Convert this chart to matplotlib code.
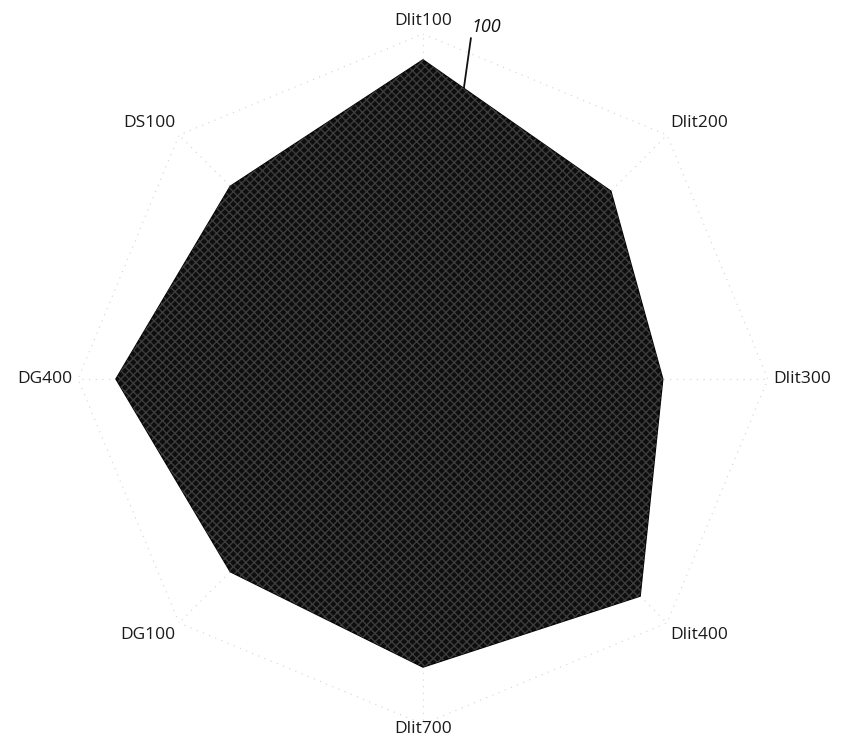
import numpy as np
import matplotlib
matplotlib.use("Agg")
import matplotlib.pyplot as plt

categories = ["Dlit100", "Dlit200", "Dlit300", "Dlit400", "Dlit700", "DG100", "DG400", "DS100"]
values = [92.5, 77, 69.5, 89, 83.5, 79, 89, 79]
rmax = 100
tick_label = "100"

plt.rcParams["font.family"] = ["Open Sans", "DejaVu Sans"]

fig = plt.figure(figsize=(8.41, 7.43), dpi=100)
# centre at (423, 379) px, r=100 -> 345 px
ax = fig.add_axes([78 / 841, 19 / 743, 690 / 841, 690 / 743], projection="polar")
ax.set_theta_zero_location("N")
ax.set_theta_direction(-1)
ax.set_ylim(0, rmax)
ax.axis("off")

n = len(categories)
theta = np.linspace(0, 2 * np.pi, n, endpoint=False)
theta_c = np.append(theta, theta[0])

# faint dotted grid: spokes and outer ring
for t in theta:
    ax.plot([t, t], [0, rmax], color="#d2d2d2", lw=0.8, ls=(0, (1, 5)), zorder=1)
ax.plot(theta_c, [rmax] * (n + 1), color="#d2d2d2", lw=0.8, ls=(0, (1, 5)), zorder=1)

# radial axis line, tilted slightly clockwise
ang = np.deg2rad(8)
ax.plot([ang, ang], [0, rmax], color="#111111", lw=1.3, zorder=2)
ax.text(ang, rmax + 0.5, tick_label, fontsize=13, style="italic", color="#111111",
        ha="left", va="bottom", zorder=5)

vals = values + values[:1]
ax.fill(theta_c, vals, facecolor="#0e0e0e", edgecolor="#050505", lw=1.0, zorder=3)
ax.fill(theta_c, vals, facecolor="none", edgecolor="#3c3c3c", hatch="xxxx", lw=0, zorder=4)

for t, lab in zip(theta, categories):
    s, c = np.sin(t), np.cos(t)
    ha = "center" if abs(s) < 0.1 else ("left" if s > 0 else "right")
    va = "center" if abs(c) < 0.1 else ("bottom" if c > 0 else "top")
    r = rmax - 1 if va == "top" and ha == "center" else rmax + 1.5
    ax.text(t, r, lab, fontsize=12.5, color="#1a1a1a", ha=ha, va=va, zorder=5)

fig.savefig("out.png", dpi=100, facecolor="white")
